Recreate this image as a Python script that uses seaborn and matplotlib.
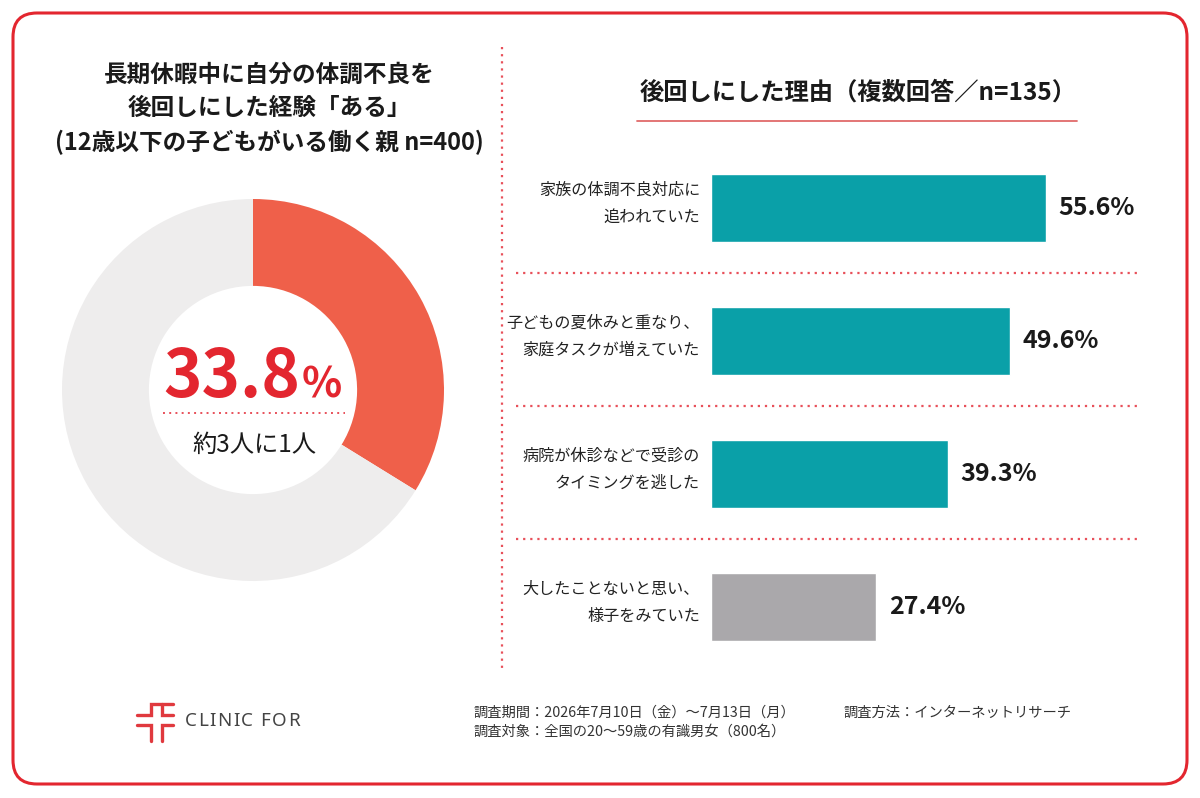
import matplotlib
matplotlib.use('Agg')
import matplotlib.pyplot as plt
import matplotlib.transforms as mtransforms
import seaborn as sns
import pandas as pd
from matplotlib.patches import FancyBboxPatch

# ---------------- data ----------------
donut_labels = ['ある', 'ない']
donut_values = [33.8, 66.2]
donut_main = '33.8'
donut_sub = '約3人に1人'

reasons = ['家族の体調不良対応に\n追われていた',
           '子どもの夏休みと重なり、\n家庭タスクが増えていた',
           '病院が休診などで受診の\nタイミングを逃した',
           '大したことないと思い、\n様子をみていた']
reason_values = [55.6, 49.6, 39.3, 27.4]

left_title = '長期休暇中に自分の体調不良を\n後回しにした経験「ある」\n(12歳以下の子どもがいる働く親 n=400)'
right_title = '後回しにした理由（複数回答／n=135）'
footer_lines = ['調査期間：2026年7月10日（金）～7月13日（月）',
                '調査対象：全国の20～59歳の有識男女（800名）']
footer_method = '調査方法：インターネットリサーチ'
brand = 'CLINIC FOR'

# ---------------- style ----------------
sns.set_theme(style='white')
plt.rcParams['font.family'] = ['Noto Sans CJK JP', 'DejaVu Sans']

RED = '#e3262f'
DONUT_RED = '#ef604a'
DONUT_GREY = '#eeeded'
TEAL = '#0aa0a8'
GREY = '#aaa8ab'
DOT = '#e8505a'
TXT = '#1a1a1a'

W, H = 1200, 798
fig = plt.figure(figsize=(W / 100, H / 100), dpi=100)
fig.patch.set_facecolor('white')

def fx(x):
    return x / W

def fy(y):
    return 1 - y / H

# decoration layer in pixel coords
deco = fig.add_axes([0, 0, 1, 1], zorder=0)
deco.set_xlim(0, W)
deco.set_ylim(H, 0)
deco.axis('off')

border = FancyBboxPatch((13, 13), W - 26, H - 27,
                        boxstyle='round,pad=0,rounding_size=24',
                        fc='white', ec=RED, lw=2.2)
deco.add_patch(border)

# vertical dotted divider
deco.plot([502, 502], [47, 672], color=DOT, lw=1.6, ls=(0, (1, 2.2)))
# horizontal separators between bars
for yy in [273, 406, 539]:
    deco.plot([516, 1140], [yy, yy], color=DOT, lw=1.6, ls=(0, (1, 2.2)))
# title underline
deco.plot([637, 1077], [121, 121], color='#e06a6a', lw=1.3)
# dotted line inside donut
deco.plot([163, 345], [413, 413], color=DOT, lw=1.4, ls=(0, (1, 2.2)))

# titles
deco.text(269, 109, left_title, ha='center', va='center', fontsize=17,
          fontweight='bold', color=TXT, linespacing=1.5)
deco.text(858, 93, right_title, ha='center', va='center', fontsize=17.5,
          fontweight='bold', color=TXT)

# donut texts
deco.text(300, 397, donut_main, ha='right', va='baseline', fontsize=47,
          fontweight='bold', color=RED)
deco.text(302, 397, '%', ha='left', va='baseline', fontsize=30,
          fontweight='bold', color=RED)
deco.text(254, 445, donut_sub, ha='center', va='center', fontsize=17.5, color=TXT)

# footer
deco.text(474, 713, footer_lines[0], ha='left', va='center', fontsize=10.3, color='#333333')
deco.text(474, 732, footer_lines[1], ha='left', va='center', fontsize=10.3, color='#333333')
deco.text(843, 713, footer_method, ha='left', va='center', fontsize=10.3, color='#333333')

# logo
lc = '#e0393e'
lw = 2.4
deco.plot([137, 151, 151, 173], [715, 715, 704, 704], color=lc, lw=lw, solid_joinstyle='miter')
deco.plot([162, 162, 173], [704, 715, 715], color=lc, lw=lw, solid_joinstyle='miter')
deco.plot([137, 151, 151], [725, 725, 741], color=lc, lw=lw, solid_joinstyle='miter')
deco.plot([173, 162, 162], [725, 725, 741], color=lc, lw=lw, solid_joinstyle='miter')

# letter-spaced brand text
renderer = fig.canvas.get_renderer()
bx = 185.0
for ch in brand:
    t = deco.text(bx, 721, ch, ha='left', va='center', fontsize=13.5, color='#444444',
                  family=['Noto Sans', 'DejaVu Sans'])
    if ch == ' ':
        bx += 5 + 1.4
    else:
        ext = t.get_window_extent(renderer=renderer)
        bx += ext.width + 1.4

# ---------------- donut ----------------
cx, cy, R = 253, 390, 191
dax = fig.add_axes([fx(cx - R), fy(cy + R), 2 * R / W, 2 * R / H], zorder=1)
dax.pie(donut_values, startangle=90, counterclock=False,
        colors=[DONUT_RED, DONUT_GREY],
        wedgeprops=dict(width=0.455, edgecolor='none'))
dax.set_xlim(-1, 1)
dax.set_ylim(-1, 1)
dax.set_aspect('equal')
dax.axis('off')

# ---------------- bars ----------------
bx0, bwidth = 711, 420
ytop, ybot = 208 - 66.5, 607 + 66.5
bax = fig.add_axes([fx(bx0), fy(ybot), bwidth / W, (ybot - ytop) / H], zorder=2)
bax.patch.set_alpha(0)
df = pd.DataFrame({'reason': reasons, 'value': reason_values})
colors = [TEAL, TEAL, TEAL, GREY]
sns.barplot(data=df, x='value', y='reason', hue='reason', palette=colors,
            legend=False, width=0.51, ax=bax, saturation=1)
bax.set_xlim(0, bwidth / 6.02)
bax.set_ylim(3.5, -0.5)
for i, v in enumerate(reason_values):
    bax.text(v + 2.1, i, f'{v:.1f}%', ha='left', va='center', fontsize=18,
             fontweight='bold', color=TXT)
# category labels, placed left of the axis
lab_tr = bax.get_yaxis_transform() + mtransforms.ScaledTranslation(-11 / 100, 4 / 100, fig.dpi_scale_trans)
for i, r in enumerate(reasons):
    bax.text(0, i, r, transform=lab_tr, ha='right', va='center', fontsize=11.6,
             color='#222222', linespacing=1.8, multialignment='right')
bax.set_yticks([])
bax.set_xlabel('')
bax.set_ylabel('')
bax.set_xticks([])
for s in bax.spines.values():
    s.set_visible(False)

fig.savefig('out.png', dpi=100, facecolor='white')
